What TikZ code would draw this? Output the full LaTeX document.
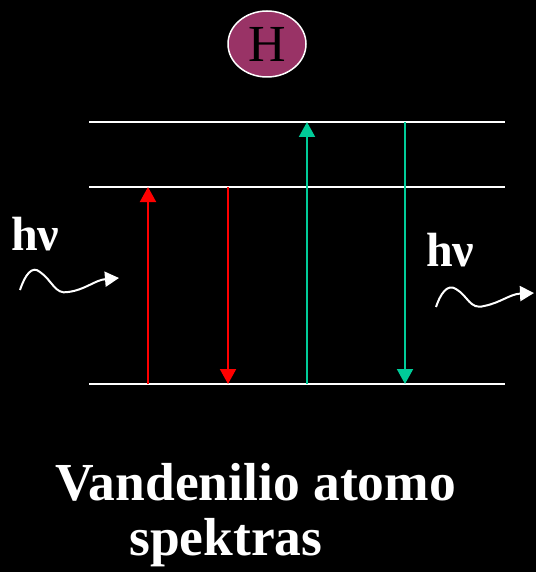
\documentclass[tikz,border=0pt]{standalone}
\usepackage{fontspec}
\setmainfont{Liberation Serif}
\usetikzlibrary{arrows.meta,shapes.geometric}
\definecolor{plum}{HTML}{993366}
\definecolor{tealg}{HTML}{00CC99}
\tikzset{
  level/.style={draw=white, line width=2pt},
  trans/.style={line width=2pt, -{Triangle[width=16pt,length=15pt]}},
  wave/.style={draw=white, line width=2pt, -{Triangle[width=15pt,length=14pt]}},
  bigtxt/.style={text=white, font=\bfseries\fontsize{48}{52}\selectfont, inner sep=0pt, anchor=base west}
}
\begin{document}
\begin{tikzpicture}[x=1pt,y=-1pt]
\fill[black] (0,0) rectangle (536,572);
\useasboundingbox (0,0) rectangle (536,572);
% atom
\node[draw=white, line width=1.5pt, fill=plum, ellipse, minimum width=78pt, minimum height=66pt, inner sep=0pt, font=\fontsize{52}{54}\selectfont] (H) at (267,44) {H};
% levels
\coordinate (L3a) at (89,122); \coordinate (L3b) at (505,122);
\coordinate (L2a) at (89,187); \coordinate (L2b) at (505,187);
\coordinate (L1a) at (89,384); \coordinate (L1b) at (505,384);
\draw[level] (L3a) -- (L3b);
\draw[level] (L2a) -- (L2b);
\draw[level] (L1a) -- (L1b);
% transitions
\coordinate (r1s) at (148,384); \coordinate (r1e) at (148,187);
\coordinate (r2s) at (228,187); \coordinate (r2e) at (228,384);
\coordinate (g1s) at (307,384); \coordinate (g1e) at (307,122);
\coordinate (g2s) at (405,122); \coordinate (g2e) at (405,384);
\draw[trans, red] (r1s) -- (r1e);
\draw[trans, red] (r2s) -- (r2e);
\draw[trans, tealg] (g1s) -- (g1e);
\draw[trans, tealg] (g2s) -- (g2e);
% photons
\node[bigtxt] (hvL) at (11,250) {hν};
\node[bigtxt] (hvR) at (426,266) {hν};
\coordinate (wL0) at (20,290); \coordinate (wL1) at (119,278);
\draw[wave] (wL0) .. controls (25,275) and (32,265) .. (40,272)
  .. controls (52,280) and (55,295) .. (68,292)
  .. controls (85,290) and (95,280) .. (wL1);
\coordinate (wR0) at (436,307); \coordinate (wR1) at (534,293);
\draw[wave] (wR0) .. controls (440,295) and (447,283) .. (456,289)
  .. controls (468,296) and (470,310) .. (484,306)
  .. controls (500,303) and (510,294) .. (wR1);
% caption
\node[bigtxt, font=\bfseries\fontsize{53.5}{56}\selectfont] (cap1) at (55,500) {Vandenilio atomo};
\node[bigtxt, font=\bfseries\fontsize{53.5}{56}\selectfont] (cap2) at (129,555) {spektras};
\end{tikzpicture}
\end{document}
